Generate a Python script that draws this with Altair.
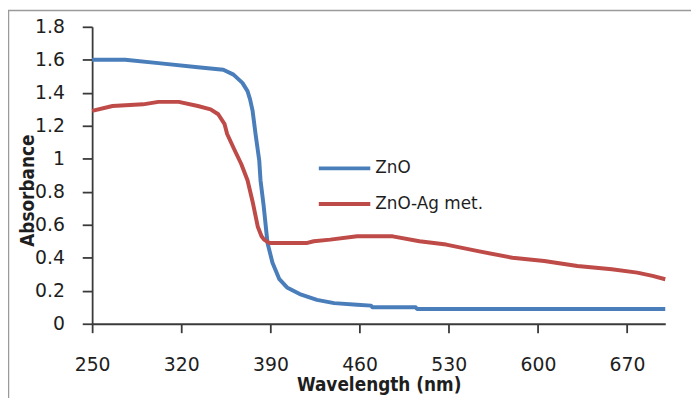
import altair as alt
import pandas as pd

# ZnO (blue)
zno_wl = [250, 276, 302, 333, 353, 361, 368, 372, 374, 376, 378.3, 381.2, 382.2, 384.6, 387.7,
          391.6, 397, 403, 413, 426.5, 440, 458, 469, 470, 504, 505, 700]
zno_abs = [1.60, 1.60, 1.58, 1.555, 1.54, 1.51, 1.46, 1.41, 1.36, 1.29, 1.15, 0.99, 0.87, 0.72, 0.49,
           0.37, 0.27, 0.22, 0.18, 0.145, 0.125, 0.115, 0.11, 0.10, 0.10, 0.09, 0.09]

# ZnO-Ag met. (red)
ag_wl = [250, 266, 290, 302, 318, 333, 343, 349, 354, 356, 362, 367, 372, 376, 380, 383, 385, 389,
         419, 424, 437, 458, 486, 507, 528, 553, 580, 605, 631, 658, 678, 690, 700]
ag_abs = [1.29, 1.32, 1.33, 1.345, 1.345, 1.32, 1.30, 1.27, 1.21, 1.15, 1.05, 0.97, 0.87, 0.74, 0.59,
          0.53, 0.51, 0.49, 0.49, 0.50, 0.51, 0.53, 0.53, 0.50, 0.48, 0.44, 0.40, 0.38, 0.35, 0.33,
          0.31, 0.29, 0.27]

series_names = ["ZnO", "ZnO-Ag met."]
series_colors = ["#4a7ebb", "#be4b48"]
x_ticks = [250, 320, 390, 460, 530, 600, 670]
y_ticks = [0, 0.2, 0.4, 0.6, 0.8, 1.0, 1.2, 1.4, 1.6, 1.8]

df = pd.concat([
    pd.DataFrame({"wl": zno_wl, "abs": zno_abs, "series": series_names[0], "order": range(len(zno_wl))}),
    pd.DataFrame({"wl": ag_wl, "abs": ag_abs, "series": series_names[1], "order": range(len(ag_wl))}),
])

TICKFONT = "DejaVu Sans"
TITLEFONT = "DejaVu Sans Condensed"
AXC = "#3a3a3a"
TXT = "#1e1e1e"

W, H = 579, 300

lines = alt.Chart(df).mark_line(strokeWidth=4, strokeJoin="round").encode(
    x=alt.X("wl:Q", scale=alt.Scale(domain=[250, 700], nice=False, zero=False),
            axis=alt.Axis(values=x_ticks, title="Wavelength (nm)", grid=False, tickSize=9,
                          labelPadding=23, labelFlush=False, titleY=67, titleBaseline="alphabetic")),
    y=alt.Y("abs:Q", scale=alt.Scale(domain=[0, 1.8], nice=False),
            axis=alt.Axis(values=y_ticks, format="~g", title="Absorbance", grid=False, tickSize=10,
                          labelPadding=18, labelFlush=False, titleX=-65, titleY=165,
                          titleBaseline="middle", titleAlign="center", titleAngle=270)),
    color=alt.Color("series:N", scale=alt.Scale(domain=series_names, range=series_colors),
                    legend=alt.Legend(title=None, orient="none", legendX=227, legendY=115,
                                      symbolType="stroke", symbolSize=2704, symbolStrokeWidth=4,
                                      labelFontSize=17, labelFont=TICKFONT, labelColor=TXT,
                                      labelOffset=3, rowPadding=0, padding=0)),
    order="order:Q",
)

border = alt.Chart(pd.DataFrame({"b": [0]})).mark_rect(
    fill=None, stroke="#9a9a9a", strokeWidth=1.5
).encode(
    x=alt.value(-84.5), x2=alt.value(700), y=alt.value(-16.5), y2=alt.value(500)
)

chart = alt.layer(border, lines).properties(
    width=W, height=H,
    autosize=alt.AutoSizeParams(type="none"),
    padding={"left": 85, "top": 17, "right": 26, "bottom": 73},
).configure_view(stroke=None).configure_axis(
    domainColor=AXC, tickColor=AXC, domainWidth=1.8, tickWidth=1.8,
    labelFont=TICKFONT, labelFontSize=19, labelColor=TXT,
    titleFont=TITLEFONT, titleFontSize=19, titleFontWeight="bold", titleColor=TXT,
)

chart.save("out.html", embed_options={"renderer": "svg", "actions": False})
